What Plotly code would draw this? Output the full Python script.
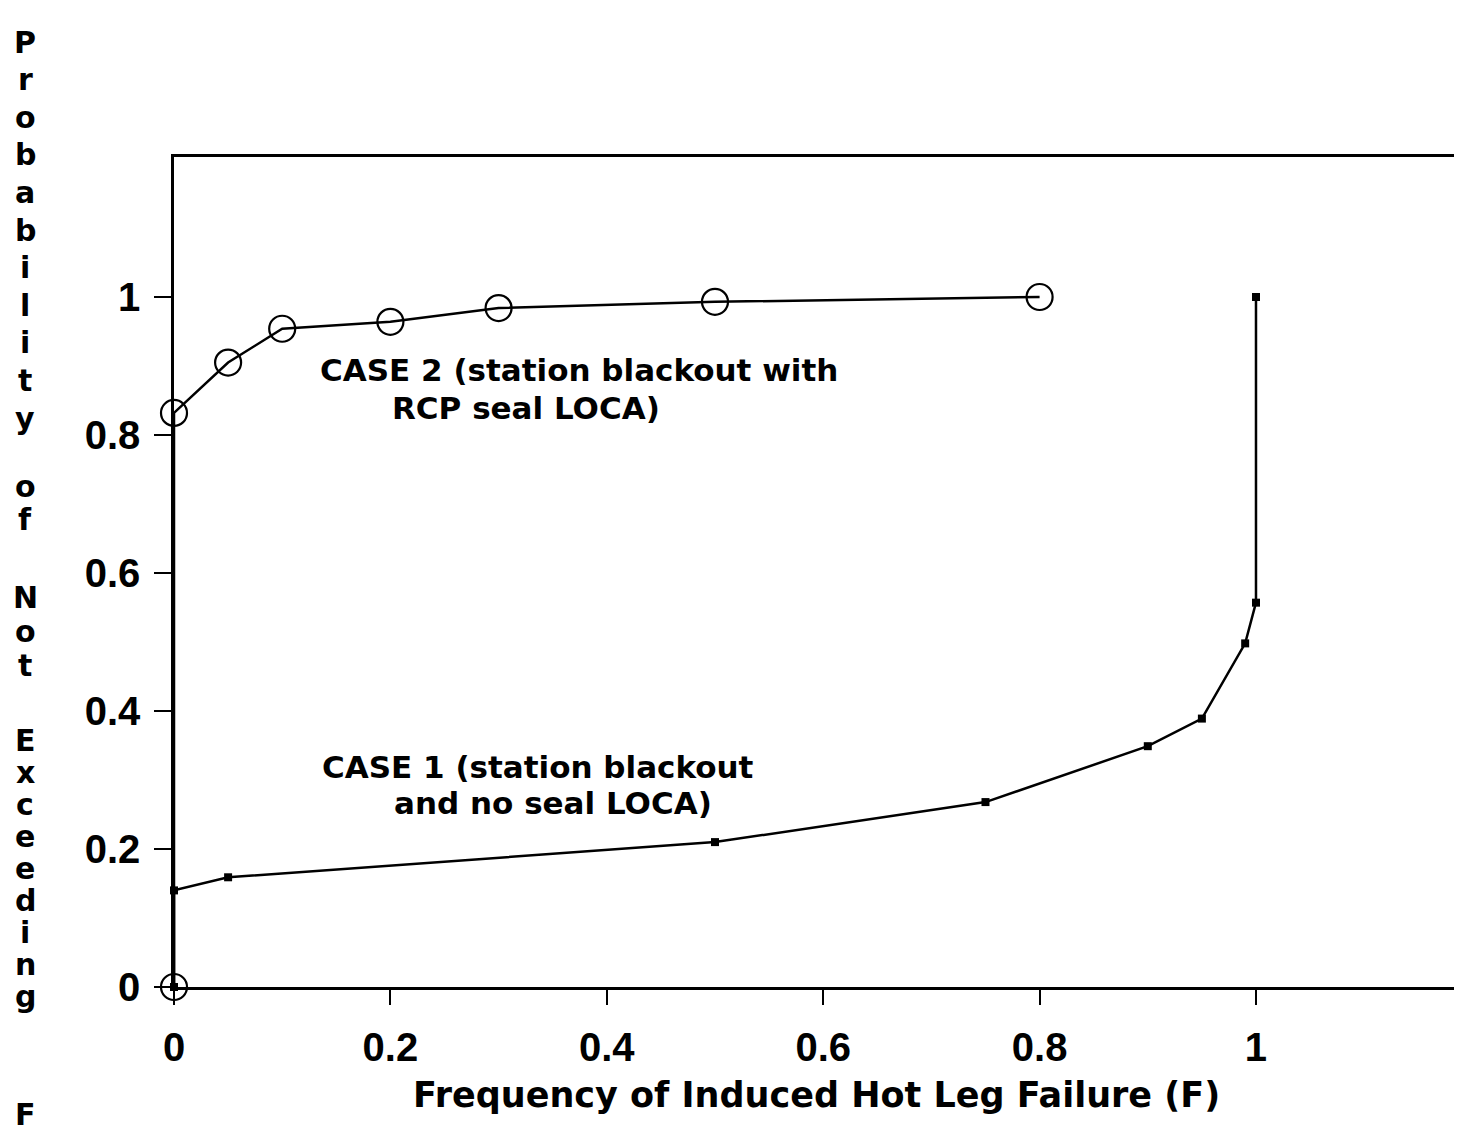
import plotly.graph_objects as go

# ---- data ----
case1_x = [0, 0, 0.05, 0.5, 0.75, 0.9, 0.95, 0.99, 1.0, 1.0]
case1_y = [0, 0.14, 0.159, 0.21, 0.268, 0.349, 0.389, 0.498, 0.557, 1.0]
case2_x = [0, 0, 0.05, 0.1, 0.2, 0.3, 0.5, 0.8]
case2_y = [0, 0.832, 0.905, 0.954, 0.964, 0.984, 0.993, 1.0]
tick_vals = [0, 0.2, 0.4, 0.6, 0.8, 1]
tick_text = ["0", "0.2", "0.4", "0.6", "0.8", "1"]
x_title = "Frequency of Induced Hot Leg Failure (F)"
y_title_words = ["Probability", "of", "Not", "Exceeding", "F"]
case2_label = ["CASE 2 (station blackout with", "RCP seal LOCA)"]
case1_label = ["CASE 1 (station blackout", "and no seal LOCA)"]

OFF = 8                      # page body margin
W, H = 1462 - OFF, 1140 - 2 * OFF
ML, MR, MT = 174 - OFF, 0, 157 - OFF
MB = (H + OFF) - 987
TXT = "DejaVu Sans"
TICKF = "Liberation Sans"

fig = go.Figure()
fig.add_trace(go.Scatter(
    x=case1_x, y=case1_y, mode="lines+markers",
    line=dict(color="black", width=2.5),
    marker=dict(symbol="square", size=8, color="black"),
    cliponaxis=False, showlegend=False))
fig.add_trace(go.Scatter(
    x=case2_x, y=case2_y, mode="lines+markers",
    line=dict(color="black", width=2.5),
    marker=dict(symbol="circle-open", size=26, color="black", line=dict(width=2.2)),
    cliponaxis=False, showlegend=False))

annotations = []
lab_font = dict(family=TXT, size=31, color="black", weight="bold")
for (lx, ly, txt) in [(0.133, 0.894, case2_label[0]), (0.1996, 0.839, case2_label[1]),
                      (0.135, 0.319, case1_label[0]), (0.2015, 0.2667, case1_label[1])]:
    annotations.append(dict(x=lx, y=ly, xref="x", yref="y", text=txt,
                            xanchor="left", yanchor="middle", showarrow=False, font=lab_font))

pw = W - ML - MR
ph = H - MT - MB
def px_to_paper(px, py):
    # px, py are window pixel positions
    px -= OFF
    py -= OFF
    return (px - ML) / pw, (H - MB - py) / ph

tx, ty = px_to_paper(816, 1095)
annotations.append(dict(x=tx, y=ty, xref="paper", yref="paper", text=x_title,
                        xanchor="center", yanchor="middle", showarrow=False,
                        font=dict(family=TXT, size=35, color="black", weight="bold")))

# stacked vertical y-axis title
word_layout = [(42, 37.6), (487, 33), (597, 34), (740, 32), (1114, 0)]
for word, (start, step) in zip(y_title_words, word_layout):
    for i, ch in enumerate(word):
        lx, ly = px_to_paper(25, start + i * step)
        annotations.append(dict(x=lx, y=ly, xref="paper", yref="paper", text=ch,
                                xanchor="center", yanchor="middle", showarrow=False,
                                font=dict(family=TXT, size=30, color="black", weight="bold")))

fig.update_layout(
    width=W, height=H,
    margin=dict(l=ML, r=MR, t=MT, b=MB, pad=0),
    paper_bgcolor="white", plot_bgcolor="white",
    annotations=annotations,
    xaxis=dict(range=[0, 1.1904], showline=True, linecolor="black", linewidth=2.5,
               mirror=True, ticks="outside", ticklen=15, tickwidth=2, tickcolor="black",
               tickvals=tick_vals, ticktext=tick_text, showgrid=False, zeroline=False,
               ticklabelstandoff=8,
               tickfont=dict(family=TICKF, size=40, color="black", weight="bold")),
    yaxis=dict(range=[0, 1.2029], showline=True, linecolor="black", linewidth=2.5,
               mirror=False, ticks="outside", ticklen=17, tickwidth=2, tickcolor="black",
               tickvals=tick_vals, ticktext=tick_text, showgrid=False, zeroline=False,
               ticklabelstandoff=6,
               tickfont=dict(family=TICKF, size=40, color="black", weight="bold")),
)

fig.write_html("out.html")
